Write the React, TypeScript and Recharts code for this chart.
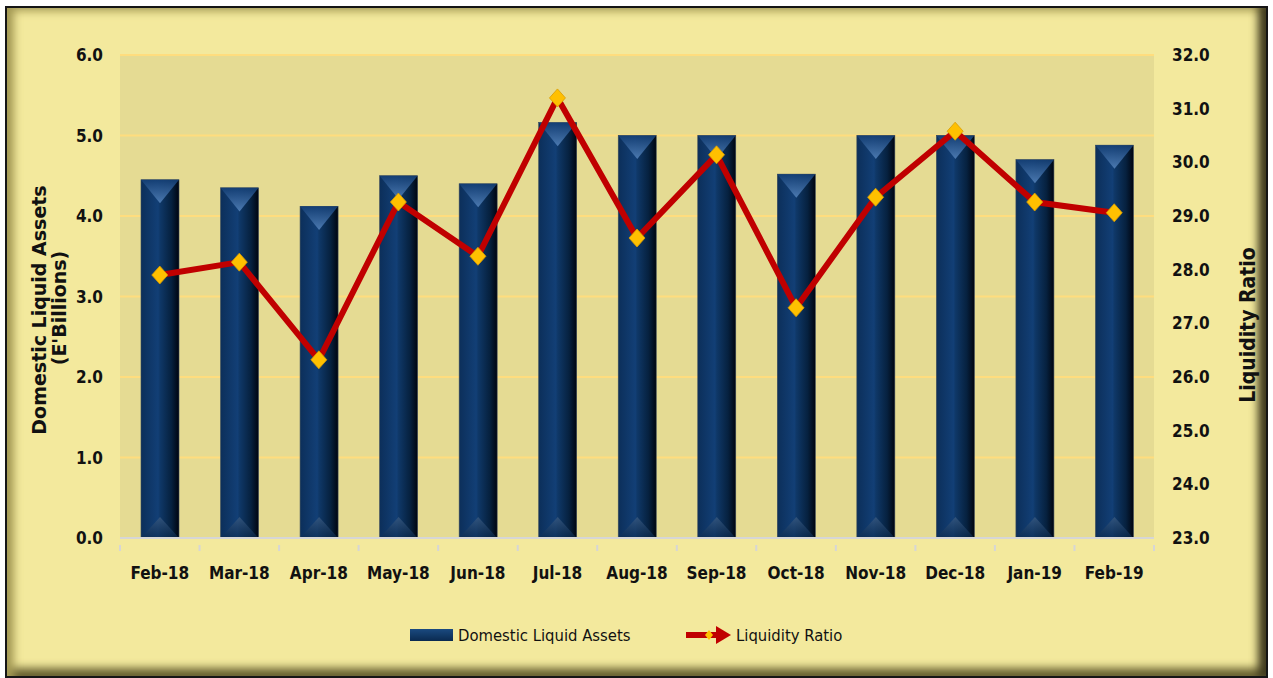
import React from 'react';
import {
  ComposedChart,
  Bar,
  Line,
  XAxis,
  YAxis,
  CartesianGrid,
} from 'recharts';

const categories = [
  'Feb-18', 'Mar-18', 'Apr-18', 'May-18', 'Jun-18', 'Jul-18', 'Aug-18',
  'Sep-18', 'Oct-18', 'Nov-18', 'Dec-18', 'Jan-19', 'Feb-19',
];
const liquidAssets = [4.45, 4.35, 4.12, 4.5, 4.4, 5.16, 5.0, 5.0, 4.52, 5.0, 5.0, 4.7, 4.88];
const liquidityRatio = [27.9, 28.14, 26.32, 29.26, 28.25, 31.2, 28.59, 30.14, 27.29, 29.35, 30.58, 29.26, 29.06];
const leftTicks = [0, 1, 2, 3, 4, 5, 6];
const rightTicks = [23, 24, 25, 26, 27, 28, 29, 30, 31, 32];

const data = categories.map((month, i) => ({
  month,
  assets: liquidAssets[i],
  ratio: liquidityRatio[i],
}));

const W = 1273;
const H = 678;
const LEFT_W = 120;
const RIGHT_W = 119;
const TOP = 55;
const X_H = 140;
const BAND = (W - LEFT_W - RIGHT_W) / categories.length;

const FONT = "'DejaVu Sans Condensed', 'DejaVu Sans', sans-serif";
const WIDE_FONT = "'DejaVu Sans', sans-serif";
const RED = '#C00000';
const GOLD = '#FFC000';

function PyramidBar(props: any) {
  const { x, y, width, height } = props;
  if (!height || height <= 0) return null;
  const cx = x + width / 2;
  return (
    <g>
      <rect x={x} y={y} width={width} height={height} fill="url(#barBody)" stroke="#3a4a5a" strokeWidth={0.6} />
      <polygon points={`${x},${y} ${x + width},${y} ${cx},${y + width * 0.62}`} fill="url(#barTop)" />
      <polygon points={`${x},${y + height} ${x + width},${y + height} ${cx},${y + height - width * 0.55}`} fill="url(#barBottom)" />
    </g>
  );
}

function Diamond(props: any) {
  const { cx, cy } = props;
  if (cx == null || cy == null) return null;
  return (
    <polygon
      points={`${cx},${cy - 9} ${cx + 8},${cy} ${cx},${cy + 9} ${cx - 8},${cy}`}
      fill={GOLD}
      stroke="#D99A00"
      strokeWidth={0.8}
    />
  );
}

function XTick(props: any) {
  const { x, y, payload, index } = props;
  const left = x - BAND / 2;
  const isLast = index === categories.length - 1;
  return (
    <g>
      <line x1={left} y1={y - 1} x2={left} y2={y + 5} stroke="#D6D6D6" strokeWidth={2} />
      {isLast && <line x1={left + BAND} y1={y - 1} x2={left + BAND} y2={y + 5} stroke="#D6D6D6" strokeWidth={2} />}
      <text x={x} y={y + 33} textAnchor="middle" fontFamily={FONT} fontWeight="bold" fontSize={17} fill="#111">
        {payload.value}
      </text>
    </g>
  );
}

const tickStyle = { fontFamily: FONT, fontWeight: 'bold' as const, fontSize: 17, fill: '#111' };

export default function App() {
  return (
    <div style={{ position: 'absolute', left: 0, top: 0, width: W, height: H, background: '#fff', overflow: 'hidden' }}>
      <div
        style={{
          position: 'absolute',
          left: 5,
          top: 6,
          width: W - 10,
          height: H - 6,
          boxSizing: 'border-box',
          border: '2px solid #151515',
          background: '#F3E99D',
          boxShadow:
            'inset 12px 0 8px -5px #a59b55, inset -12px 0 8px -4px #3f3a1e, inset 0 -12px 8px -4px #6b6434, inset 0 11px 6px -5px #cfc47a',
        }}
      />
      <div style={{ position: 'absolute', left: 0, top: 0 }}>
        <ComposedChart width={W} height={H} data={data} margin={{ top: TOP, right: 0, bottom: 0, left: 0 }}>
          <defs>
            <linearGradient id="barBody" x1="0" y1="0" x2="1" y2="0">
              <stop offset="0" stopColor="#0c2f5a" />
              <stop offset="0.45" stopColor="#123f76" />
              <stop offset="0.5" stopColor="#0f3868" />
              <stop offset="0.8" stopColor="#06213f" />
              <stop offset="1" stopColor="#000510" />
            </linearGradient>
            <linearGradient id="barTop" x1="0" y1="0" x2="0" y2="1">
              <stop offset="0" stopColor="#143f75" stopOpacity={0.9} />
              <stop offset="1" stopColor="#4f7db4" stopOpacity={0.95} />
            </linearGradient>
            <linearGradient id="barBottom" x1="0" y1="1" x2="0" y2="0">
              <stop offset="0" stopColor="#0a2a50" stopOpacity={0.6} />
              <stop offset="1" stopColor="#3a5a80" stopOpacity={0.8} />
            </linearGradient>
          </defs>
          <CartesianGrid
            yAxisId="left"
            vertical={false}
            stroke="#FFDD7E"
            strokeWidth={2}
            fill="#E5DB93"
          />
          <XAxis
            dataKey="month"
            height={X_H}
            axisLine={{ stroke: '#D6D6D6', strokeWidth: 2 }}
            tickLine={false}
            tick={<XTick />}
            interval={0}
          />
          <YAxis
            yAxisId="left"
            orientation="left"
            width={LEFT_W}
            domain={[0, 6]}
            ticks={leftTicks}
            tickFormatter={(v: number) => v.toFixed(1)}
            axisLine={false}
            tickLine={false}
            tickSize={0}
            tickMargin={17}
            tick={tickStyle}
          />
          <YAxis
            yAxisId="right"
            orientation="right"
            width={RIGHT_W}
            domain={[23, 32]}
            ticks={rightTicks}
            tickFormatter={(v: number) => v.toFixed(1)}
            axisLine={false}
            tickLine={false}
            tickSize={0}
            tickMargin={18}
            tick={tickStyle}
          />
          <Bar
            yAxisId="left"
            dataKey="assets"
            barSize={38}
            shape={<PyramidBar />}
            isAnimationActive={false}
          />
          <Line
            yAxisId="right"
            dataKey="ratio"
            type="linear"
            stroke={RED}
            strokeWidth={6}
            dot={<Diamond />}
            activeDot={false}
            isAnimationActive={false}
          />
        </ComposedChart>
      </div>
      <svg width={W} height={H} style={{ position: 'absolute', left: 0, top: 0, pointerEvents: 'none' }}>
        <text
          transform="translate(46,310) rotate(-90)"
          textAnchor="middle"
          fontFamily={WIDE_FONT}
          fontWeight="bold"
          fontSize={19}
          fill="#111"
        >
          Domestic Liquid Assets
        </text>
        <text
          transform="translate(66,308) rotate(-90)"
          textAnchor="middle"
          fontFamily={WIDE_FONT}
          fontWeight="bold"
          fontSize={19}
          fill="#111"
        >
          (E'Billions)
        </text>
        <text
          transform="translate(1255,325) rotate(-90)"
          textAnchor="middle"
          fontFamily={FONT}
          fontWeight="bold"
          fontSize={21}
          fill="#111"
        >
          Liquidity Ratio
        </text>
        {/* legend */}
        <defs>
          <linearGradient id="legBar" x1="0" y1="0" x2="0" y2="1">
            <stop offset="0" stopColor="#1a4a80" />
            <stop offset="1" stopColor="#0a2a50" />
          </linearGradient>
        </defs>
        <rect x={410} y={629} width={43} height={12} fill="url(#legBar)" />
        <text x={458} y={641} fontFamily={FONT} fontSize={16.5} fill="#111">
          Domestic Liquid Assets
        </text>
        <line x1={686} y1={635} x2={718} y2={635} stroke={RED} strokeWidth={6} />
        <polygon points="716,626 731,635 716,644" fill={RED} />
        <polygon points="709,630 713,635 709,640 705,635" fill={GOLD} />
        <text x={736} y={641} fontFamily={FONT} fontSize={16.5} fill="#111">
          Liquidity Ratio
        </text>
      </svg>
    </div>
  );
}
